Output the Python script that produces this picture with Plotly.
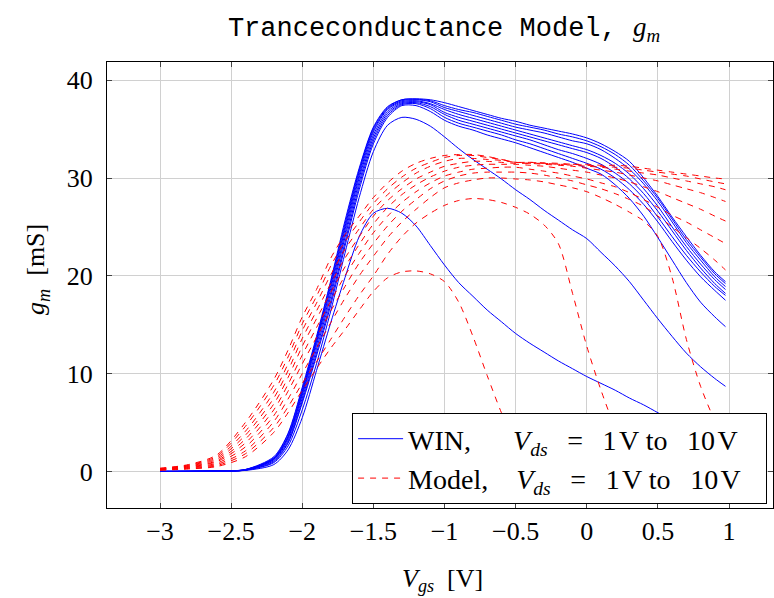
import plotly.graph_objects as go

# ---------------- data ----------------
vgs = [-3.0, -2.8, -2.6, -2.4, -2.2, -2.1, -2.0, -1.9, -1.8, -1.7, -1.6, -1.5, -1.4,
       -1.3, -1.2, -1.1, -1.0, -0.9, -0.8, -0.7, -0.6, -0.5, -0.4, -0.3, -0.2, -0.1,
       0.0, 0.1, 0.2, 0.3, 0.4, 0.5, 0.6, 0.7, 0.8, 0.9, 0.975]

# WIN (measured) gm [mS], Vds = 1 ... 10 V
win_1 = [0.0, 0.01, 0.03, 0.1, 0.7, 2.2, 5.5, 10.3, 15.2, 19.8, 24.0, 26.4, 26.9, 26.4, 25.1, 23.1, 21.1, 19.3, 17.9, 16.5, 15.3, 14.1, 13.1, 12.2, 11.3, 10.5, 9.7, 9.0, 8.3, 7.5, 6.8, 6.0, 5.2, 4.5, 3.8, 3.2, 2.7]
win_2 = [0.0, 0.01, 0.03, 0.12, 0.9, 2.6, 6.3, 11.0, 16.4, 22.3, 28.0, 32.7, 35.4, 36.2, 36.0, 35.3, 34.2, 33.0, 31.9, 30.9, 29.9, 28.8, 27.8, 26.7, 25.7, 24.7, 23.8, 22.4, 21.0, 19.4, 17.5, 15.6, 13.8, 12.1, 10.7, 9.5, 8.7]
win_3 = [0.0, 0.01, 0.04, 0.13, 1.0, 2.9, 7.0, 11.8, 17.0, 23.0, 28.8, 33.5, 36.2, 37.4, 37.4, 36.8, 35.9, 35.3, 34.9, 34.4, 34.0, 33.6, 33.1, 32.6, 32.1, 31.6, 31.0, 30.4, 29.3, 27.9, 26.1, 23.9, 21.6, 19.3, 17.3, 15.8, 14.8]
win_4 = [0.0, 0.01, 0.04, 0.14, 1.1, 3.0, 7.2, 12.1, 17.4, 23.4, 29.2, 33.8, 36.4, 37.5, 37.6, 37.1, 36.2, 35.6, 35.2, 34.8, 34.4, 33.9, 33.5, 33.0, 32.5, 32.0, 31.5, 30.9, 30.0, 28.8, 27.3, 25.5, 23.5, 21.6, 19.9, 18.5, 17.5]
win_5 = [0.0, 0.01, 0.04, 0.15, 1.2, 3.2, 7.5, 12.5, 17.9, 23.9, 29.6, 34.1, 36.6, 37.6, 37.7, 37.3, 36.5, 35.9, 35.5, 35.1, 34.7, 34.3, 33.9, 33.4, 32.9, 32.5, 32.0, 31.4, 30.5, 29.4, 27.9, 26.0, 24.0, 22.1, 20.4, 18.9, 18.0]
win_6 = [0.0, 0.01, 0.04, 0.16, 1.25, 3.4, 7.8, 12.9, 18.3, 24.3, 30.0, 34.4, 36.8, 37.7, 37.8, 37.5, 36.7, 36.2, 35.8, 35.4, 35.0, 34.6, 34.2, 33.8, 33.4, 33.0, 32.6, 32.0, 31.1, 29.9, 28.4, 26.6, 24.6, 22.6, 20.8, 19.2, 18.2]
win_7 = [0.0, 0.01, 0.05, 0.17, 1.3, 3.5, 8.0, 13.2, 18.7, 24.7, 30.3, 34.7, 37.0, 37.8, 37.9, 37.6, 37.0, 36.5, 36.1, 35.7, 35.3, 34.9, 34.5, 34.1, 33.7, 33.3, 32.9, 32.3, 31.5, 30.4, 28.9, 27.1, 25.0, 23.0, 21.2, 19.6, 18.6]
win_8 = [0.0, 0.01, 0.05, 0.18, 1.35, 3.6, 8.2, 13.4, 19.0, 25.0, 30.6, 34.9, 37.1, 37.9, 38.0, 37.8, 37.2, 36.8, 36.4, 36.0, 35.6, 35.2, 34.9, 34.6, 34.2, 33.8, 33.5, 32.9, 32.0, 30.9, 29.4, 27.6, 25.5, 23.4, 21.6, 19.9, 18.9]
win_9 = [0.0, 0.01, 0.05, 0.19, 1.4, 3.8, 8.4, 13.6, 19.3, 25.3, 30.8, 35.1, 37.2, 38.0, 38.05, 37.9, 37.4, 37.0, 36.7, 36.3, 35.9, 35.5, 35.2, 34.9, 34.5, 34.2, 33.8, 33.2, 32.4, 31.3, 29.7, 27.9, 25.8, 23.7, 21.9, 20.2, 19.2]
win_10 = [0.0, 0.01, 0.05, 0.2, 1.5, 3.9, 8.6, 13.8, 19.5, 25.6, 31.0, 35.2, 37.3, 38.0, 38.1, 38.0, 37.7, 37.3, 36.9, 36.5, 36.1, 35.8, 35.4, 35.1, 34.8, 34.5, 34.1, 33.5, 32.7, 31.7, 30.0, 28.1, 26.0, 24.0, 22.1, 20.4, 19.4]

# Model gm [mS], Vds = 1 ... 10 V
model_1 = [0.12, 0.25, 0.50, 1.5, 4.0, 6.0, 8.3, 10.5, 12.6, 14.5, 16.5, 18.4, 19.8, 20.4, 20.5, 20.2, 19.4, 17.3, 13.8, 9.8, 6.0, 2.8, 0.9, 0.2, 0.0, 0.0, 0.0, 0.0, 0.0, 0.0, 0.0, 0.0, 0.0, 0.0, 0.0, 0.0, 0.0]
model_2 = [0.15, 0.30, 0.60, 1.8, 4.5, 6.6, 9.0, 11.2, 13.5, 15.8, 18.0, 20.0, 22.2, 24.0, 25.4, 26.4, 27.2, 27.7, 27.9, 27.8, 27.5, 27.0, 26.3, 25.2, 23.3, 18.2, 12.8, 8.3, 4.5, 2.0, 0.7, 0.2, 0.0, 0.0, 0.0, 0.0, 0.0]
model_3 = [0.17, 0.35, 0.72, 2.1, 5.1, 7.4, 10.0, 12.6, 15.2, 17.7, 20.0, 22.0, 23.9, 25.5, 26.8, 28.0, 29.0, 29.5, 29.8, 30.0, 30.0, 29.9, 29.8, 29.6, 29.3, 29.0, 28.6, 28.0, 27.3, 26.5, 25.6, 24.0, 19.8, 13.5, 8.7, 5.2, 3.3]
model_4 = [0.19, 0.40, 0.85, 2.5, 5.7, 8.2, 11.0, 13.7, 16.4, 18.9, 21.3, 23.3, 25.1, 26.6, 27.8, 28.9, 29.7, 30.2, 30.5, 30.6, 30.6, 30.6, 30.5, 30.3, 30.0, 29.7, 29.3, 28.9, 28.4, 27.8, 27.1, 26.1, 25.0, 23.9, 22.8, 21.6, 20.6]
model_5 = [0.21, 0.45, 1.0, 2.9, 6.3, 8.9, 11.9, 14.7, 17.4, 20.0, 22.3, 24.4, 26.1, 27.5, 28.6, 29.5, 30.2, 30.6, 30.9, 31.0, 31.1, 31.1, 30.9, 30.7, 30.5, 30.2, 29.9, 29.5, 29.1, 28.5, 27.8, 27.0, 26.2, 25.5, 24.7, 23.9, 23.3]
model_6 = [0.23, 0.50, 1.1, 3.3, 6.9, 9.6, 12.8, 15.6, 18.3, 20.9, 23.2, 25.3, 27.0, 28.3, 29.3, 30.1, 30.7, 31.1, 31.3, 31.4, 31.4, 31.4, 31.3, 31.2, 31.0, 30.8, 30.6, 30.3, 30.0, 29.6, 29.1, 28.6, 28.0, 27.4, 26.8, 26.1, 25.6]
model_7 = [0.25, 0.55, 1.25, 3.7, 7.5, 10.3, 13.6, 16.4, 19.2, 21.8, 24.0, 26.1, 27.7, 28.9, 29.9, 30.6, 31.2, 31.5, 31.7, 31.7, 31.6, 31.5, 31.5, 31.4, 31.3, 31.2, 31.0, 30.8, 30.6, 30.3, 30.0, 29.7, 29.3, 28.9, 28.5, 28.0, 27.6]
model_8 = [0.27, 0.60, 1.4, 4.1, 8.1, 11.0, 14.4, 17.2, 20.1, 22.7, 24.8, 26.8, 28.3, 29.5, 30.5, 31.2, 31.7, 32.0, 32.0, 31.9, 31.8, 31.6, 31.6, 31.5, 31.4, 31.3, 31.2, 31.1, 30.9, 30.7, 30.5, 30.3, 30.0, 29.7, 29.4, 29.1, 28.8]
model_9 = [0.30, 0.65, 1.55, 4.6, 8.8, 11.7, 15.1, 17.9, 21.0, 23.5, 25.5, 27.4, 28.9, 30.1, 31.0, 31.6, 32.1, 32.3, 32.3, 32.1, 31.9, 31.6, 31.6, 31.55, 31.5, 31.4, 31.3, 31.2, 31.1, 31.0, 30.8, 30.6, 30.4, 30.2, 29.9, 29.6, 29.4]
model_10 = [0.33, 0.70, 1.7, 5.0, 9.4, 12.4, 15.8, 18.6, 21.8, 24.2, 26.1, 28.0, 29.5, 30.7, 31.5, 32.0, 32.3, 32.4, 32.4, 32.2, 31.9, 31.6, 31.5, 31.5, 31.4, 31.4, 31.4, 31.3, 31.3, 31.2, 31.0, 30.8, 30.6, 30.4, 30.2, 30.0, 29.9]

win_series = [win_1, win_2, win_3, win_4, win_5, win_6, win_7, win_8, win_9, win_10]
model_series = [model_1, model_2, model_3, model_4, model_5, model_6, model_7, model_8, model_9, model_10]

x_tick_vals = [-3, -2.5, -2, -1.5, -1, -0.5, 0, 0.5, 1]
x_tick_text = ["\u22123", "\u22122.5", "\u22122", "\u22121.5", "\u22121", "\u22120.5", "0", "0.5", "1"]
y_tick_vals = [0, 10, 20, 30, 40]
y_tick_text = ["0", "10", "20", "30", "40"]

vds_text = ("<i>V</i><sub><i>ds</i></sub>\u2002\u2009=\u2002\u20091\u200aV to"
            "\u2002\u200910\u200aV\u2002\u2009")
win_label = "WIN,\u2003\u2002" + vds_text
model_label = "Model,\u2003" + vds_text

# ---------------- figure ----------------
SERIF = "Liberation Serif"
fig = go.Figure()

for i, ys in enumerate(win_series):
    fig.add_trace(go.Scatter(
        x=vgs, y=ys, mode="lines", name=win_label, legendgroup="win",
        showlegend=(i == 0),
        line=dict(color="rgb(0,0,255)", width=1, shape="spline", smoothing=0.8),
    ))
for i, ys in enumerate(model_series):
    fig.add_trace(go.Scatter(
        x=vgs, y=ys, mode="lines", name=model_label, legendgroup="model",
        showlegend=(i == 0),
        line=dict(color="rgb(255,0,0)", width=1, dash="6px,6px", shape="spline", smoothing=0.8),
    ))

axis_common = dict(
    showline=True, linecolor="black", linewidth=1, mirror="ticks",
    ticks="inside", ticklen=5, tickcolor="#444444", tickwidth=1,
    showgrid=True, gridcolor="#d0d0d0", gridwidth=1, zeroline=False,
    tickfont=dict(family=SERIF, size=26, color="black"),
)

fig.update_xaxes(range=[-3.3726, 1.309], tickmode="array", tickvals=x_tick_vals,
                 ticktext=x_tick_text, ticklabelstandoff=0, **axis_common)
fig.update_yaxes(range=[-3.74, 41.86], tickmode="array", tickvals=y_tick_vals,
                 ticktext=y_tick_text, ticklabelstandoff=8, **axis_common)

fig.update_layout(
    width=774, height=598,
    margin=dict(l=107, r=1, t=62, b=90),
    paper_bgcolor="white", plot_bgcolor="white",
    font=dict(family=SERIF, size=26, color="black"),
    title=dict(
        text="Tranceconductance Model, <span style=\"font-family:Liberation Serif\"><i>g</i><sub><i>m</i></sub></span>",
        font=dict(family="Liberation Mono", size=27, color="black"),
        x=0.506, xref="paper", xanchor="center",
        y=0.955, yref="container", yanchor="middle",
    ),
    legend=dict(
        x=0.368, y=0.213, xanchor="left", yanchor="top",
        bgcolor="white", bordercolor="black", borderwidth=1,
        font=dict(family=SERIF, size=28, color="black"),
        traceorder="normal", itemwidth=45,
    ),
    showlegend=True,
    annotations=[
        dict(text="<i>g</i><sub><i>m</i></sub>\u2002[mS]", xref="paper", yref="paper",
             x=-0.105, y=0.534, xanchor="center", yanchor="middle", textangle=-90,
             showarrow=False, font=dict(family=SERIF, size=26, color="black")),
        dict(text="<i>V</i><sub><i>gs</i></sub>\u2002[V]", xref="paper", yref="paper",
             x=0.5045, y=-0.161, xanchor="center", yanchor="middle",
             showarrow=False, font=dict(family=SERIF, size=26, color="black")),
    ],
)

fig.write_html("out.html")
